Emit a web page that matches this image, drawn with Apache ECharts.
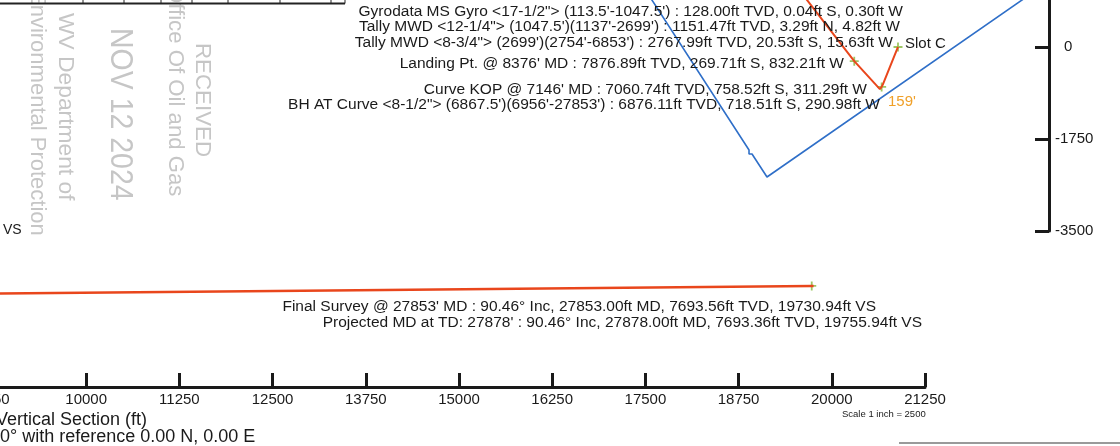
<!DOCTYPE html>
<html>
<head>
<meta charset="utf-8">
<script src="https://cdn.jsdelivr.net/npm/echarts@6/dist/echarts.min.js"></script>
<style>
  html, body { margin: 0; padding: 0; background: #fff; }
  #main { width: 1120px; height: 446px; }
</style>
</head>
<body>
<div id="main"></div>
<script>
// plan view (ft east / ft north)
const leaseE = [-4717, -2834, -2834, -2777, -2492, 2440];
const leaseN = [950, -1959, -2035, -2035, -2473, 950];
const wellE = [0, -0.30, -4.82, -15.63, -290.98, -311.29, -345, -832.21, -1774];
const wellN = [0, -0.04, 3.29, -20.53, -718.51, -758.52, -800, -269.71, 950];
const stationNames = ['Slot C', 'Landing Pt.', 'Curve KOP'];
const stationE = [0, -832.21, -311.29];
const stationN = [0, -269.71, -758.52];
const planTicks = [-3500, -1750, 0];

// vertical section (ft VS / ft TVD)
const vsDist = [8500, 14000, 19730.94, 19755.94];
const vsTvd = [7798, 7748, 7693.56, 7693.36];
const finalVs = [19730.94];
const finalTvd = [7693.56];

// annotations
const surveyNotes = [
  'Gyrodata MS Gyro <17-1/2"> (113.5\'-1047.5\') : 128.00ft TVD, 0.04ft S, 0.30ft W',
  'Tally MWD <12-1/4"> (1047.5\')(1137\'-2699\') : 1151.47ft TVD, 3.29ft N, 4.82ft W',
  'Tally MWD <8-3/4"> (2699\')(2754\'-6853\') : 2767.99ft TVD, 20.53ft S, 15.63ft W',
  'Landing Pt. @ 8376\' MD : 7876.89ft TVD, 269.71ft S, 832.21ft W',
  'Curve KOP @ 7146\' MD : 7060.74ft TVD, 758.52ft S, 311.29ft W',
  'BH AT Curve <8-1/2"> (6867.5\')(6956\'-27853\') : 6876.11ft TVD, 718.51ft S, 290.98ft W'
];
const vsNotes = [
  'Final Survey @ 27853\' MD : 90.46° Inc, 27853.00ft MD, 7693.56ft TVD, 19730.94ft VS',
  'Projected MD at TD: 27878\' : 90.46° Inc, 27878.00ft MD, 7693.36ft TVD, 19755.94ft VS'
];
const stampLines = ['RECEIVED', 'Office Of Oil and Gas', 'NOV 12 2024', 'WV Department of', 'Environmental Protection'];

const FONT = '"Liberation Sans", Arial, sans-serif';
const plusSymbol = 'path://M4 0 L6 0 L6 4 L10 4 L10 6 L6 6 L6 10 L4 10 L4 6 L0 6 L0 4 L4 4 Z';

function txt(text, x, y, size, align, color) {
  return {
    type: 'text', x: x, y: y, z: 50,
    style: {
      text: text, x: 0, y: 0, fill: color || '#1a1a1a',
      font: size + 'px ' + FONT,
      align: align, textAlign: align,
      verticalAlign: 'middle', textVerticalAlign: 'middle'
    }
  };
}
function stamp(text, x, y, size, sx) {
  let t = txt(text, x, y, size, 'left', '#c6c6c6');
  t.rotation = -Math.PI / 2;
  t.scaleX = sx || 1;
  t.z = 1;
  return t;
}
function line(x1, y1, x2, y2, w, c) {
  return { type: 'line', z: 40, shape: { x1, y1, x2, y2 }, style: { stroke: c || '#222', lineWidth: w } };
}

// note positions (right edge, middle)
const noteRight = [903, 900, 893, 844, 867, 880];
const noteY = [12, 27, 43, 64, 90, 105];

const graphics = [];
surveyNotes.forEach((s, i) => graphics.push(txt(s, noteRight[i], noteY[i], 15.5, 'right')));
graphics.push(txt(vsNotes[0], 876, 307, 15.5, 'right'));
graphics.push(txt(vsNotes[1], 922, 323, 15.5, 'right'));
graphics.push(txt('Slot C', 905, 44, 15, 'left'));
graphics.push(txt("159'", 888, 102, 15, 'left', '#f0a028'));
graphics.push(txt('VS', 3, 230, 14, 'left'));
graphics.push(txt('Vertical Section (ft)', -4, 420, 18, 'left'));
graphics.push(txt('0° with reference 0.00 N, 0.00 E', 0, 437, 18, 'left'));
graphics.push(txt('Scale 1 inch = 2500', 842, 414, 9.5, 'left'));

// received stamp
graphics.push(stamp(stampLines[0], 202, 43, 22.3));
graphics.push(stamp(stampLines[1], 175, -14, 22.2));
graphics.push(stamp(stampLines[2], 120, 28, 32, 0.89));
graphics.push(stamp(stampLines[3], 65, 13, 22.8));
graphics.push(stamp(stampLines[4], 37, -10, 22));

// table fragment at top left
graphics.push(line(0, 3.5, 345, 3.5, 2));
[83, 124, 161, 192, 228, 280, 331, 345].forEach(x => graphics.push(line(x, 0, x, 3.5, 1)));
graphics.push(line(899, 443, 1120, 443, 2, '#9a9a9a'));

const chart = echarts.init(document.getElementById('main'), null, { renderer: 'canvas' });
chart.setOption({
  animation: false,
  backgroundColor: '#fff',
  textStyle: { fontFamily: FONT },
  grid: [
    { left: 560, right: 71, top: 0, height: 231, containLabel: false, outerBoundsMode: 'none' },
    { left: -7, width: 932, top: 238, height: 149, containLabel: false, outerBoundsMode: 'none' }
  ],
  xAxis: [
    { gridIndex: 0, type: 'value', min: -6429.5, max: 2872.4, show: false },
    {
      gridIndex: 1, type: 'value', min: 8750, max: 21250, interval: 1250,
      position: 'bottom',
      axisLine: { onZero: false, lineStyle: { color: '#1a1a1a', width: 3 } },
      axisTick: { inside: true, length: 14, lineStyle: { color: '#1a1a1a', width: 3 } },
      axisLabel: {
        margin: 5, fontSize: 15, color: '#1a1a1a', fontFamily: FONT,
        showMinLabel: true, showMaxLabel: true, hideOverlap: false,
        formatter: v => String(v)
      },
      splitLine: { show: false }
    }
  ],
  yAxis: [
    {
      gridIndex: 0, type: 'value', min: -3500, max: 894, position: 'right',
      axisLine: { show: true, onZero: false, lineStyle: { color: '#1a1a1a', width: 3 } },
      axisTick: { show: true, inside: true, length: 14, customValues: planTicks, lineStyle: { color: '#1a1a1a', width: 3 } },
      axisLabel: {
        margin: 6, fontSize: 15, color: '#1a1a1a', fontFamily: FONT, customValues: planTicks,
        formatter: v => (v === 0 ? '{p|0}' : String(v)),
        rich: { p: { padding: [0, 0, 0, 9], fontSize: 15, fontFamily: FONT, color: '#1a1a1a' } }
      },
      splitLine: { show: false }
    },
    { gridIndex: 1, type: 'value', inverse: true, min: 7050, max: 9050, show: false }
  ],
  series: [
    {
      type: 'line', xAxisIndex: 0, yAxisIndex: 0, symbol: 'none',
      lineStyle: { color: '#2f6fc8', width: 1.6 },
      data: leaseE.map((e, i) => [e, leaseN[i]])
    },
    {
      type: 'line', xAxisIndex: 0, yAxisIndex: 0, symbol: 'none',
      lineStyle: { color: '#e9461c', width: 2 },
      data: wellE.map((e, i) => [e, wellN[i]])
    },
    {
      type: 'scatter', xAxisIndex: 0, yAxisIndex: 0, symbol: plusSymbol, symbolSize: 9,
      itemStyle: { color: '#86b83c' },
      data: stationE.map((e, i) => ({ name: stationNames[i], value: [e, stationN[i]] }))
    },
    {
      type: 'line', xAxisIndex: 1, yAxisIndex: 1, symbol: 'none',
      lineStyle: { color: '#e9461c', width: 2.5 },
      data: vsDist.map((v, i) => [v, vsTvd[i]])
    },
    {
      type: 'scatter', xAxisIndex: 1, yAxisIndex: 1, symbol: plusSymbol, symbolSize: 9,
      itemStyle: { color: '#86b83c' },
      data: finalVs.map((v, i) => [v, finalTvd[i]])
    }
  ],
  graphic: graphics
});
</script>
</body>
</html>
